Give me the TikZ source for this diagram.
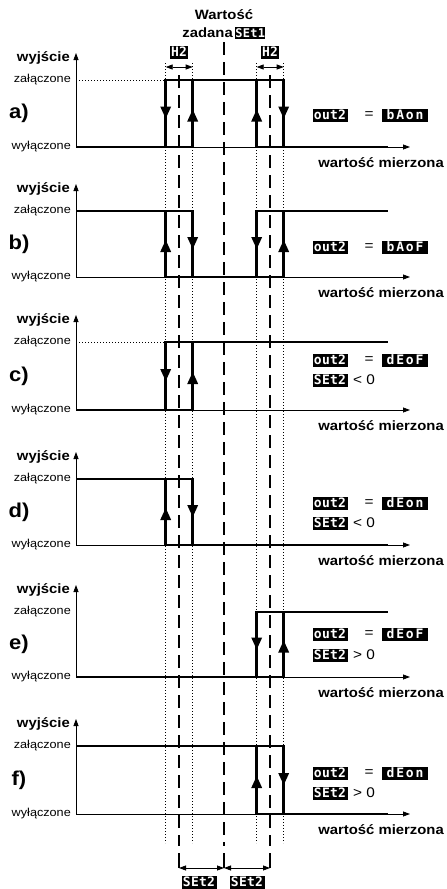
\documentclass[tikz,border=0pt]{standalone}
\usepackage{fontspec}
\setmainfont{Liberation Sans}[FakeStretch=1.1]
\newfontfamily\lcdfont{DejaVu Sans Mono}[LetterSpace=2]
\newfontfamily\lcdwide{DejaVu Sans Mono}[LetterSpace=14]
\usetikzlibrary{arrows.meta}

\newcommand\panelframe[4]{% #1 name, #2 letter, #3 high level, #4 low level
  \draw[axis] (76,#4) -- (76,#3-27);
  \draw[axis] (76,#4) -- (410,#4);
  \node[bold, anchor=east] (wy#1) at (70,#3-22) {wyjście};
  \node[lvl] (zal#1) at (71,#3) {załączone};
  \node[lvl] (wyl#1) at (71,#4) {wyłączone};
  \node[plabel] (lab#1) at (19,{(#3+#4)/2}) {#2)};
  \node[bold, anchor=east] (wm#1) at (444,#4+16) {wartość mierzona};
}
\newcommand\dnarr[2]{\fill (#1-5.5,#2-7) -- (#1+5.5,#2-7) -- (#1,#2+5) -- cycle;}
\newcommand\uparr[2]{\fill (#1-5.5,#2+8) -- (#1+5.5,#2+8) -- (#1,#2-4) -- cycle;}
\newcommand\outrow[3]{% #1 name, #2 value, #3 y
  \node[lcd=35pt] (o#1) at (330,#3) {out2};
  \node[rel] (eq#1) at (369,#3) {=};
  \node[lcd=46pt, font=\lcdwide\bfseries\fontsize{13}{13}\selectfont] (v#1) at (405,#3) {#2};
}
\newcommand\setrow[3]{% #1 name, #2 relation, #3 y
  \node[lcd=35pt] (s#1) at (330,#3) {SEt2};
  \node[rel, anchor=west] (r#1) at (353,#3) {#2 0};
}

\begin{document}
\begin{tikzpicture}[x=1pt,y=-1pt,
  axis/.style={line width=0.8pt, -{Triangle[width=5pt,length=7pt]}},
  sig/.style={line width=2.8pt, line join=miter},
  dashv/.style={line width=1.6pt, dash pattern=on 13pt off 7pt},
  dotv/.style={line width=0.6pt, dash pattern=on 0.6pt off 2.4pt},
  bold/.style={font=\bfseries\fontsize{13.5}{15}\selectfont, inner sep=0pt},
  lvl/.style={font=\fontsize{11.5}{13}\selectfont, inner sep=0pt, anchor=east},
  plabel/.style={font=\bfseries\fontsize{20}{22}\selectfont, inner sep=0pt},
  rel/.style={font=\fontsize{14}{16}\selectfont, inner sep=0pt},
  lcd/.style={fill=black, text=white, font=\lcdfont\bfseries\fontsize{13}{13}\selectfont, inner sep=0pt, minimum height=13pt, minimum width=#1},
  dim/.style={line width=0.8pt, {Triangle[width=5pt,length=7pt]}-{Triangle[width=5pt,length=7pt]}},
]
\useasboundingbox (0,0) rectangle (447,889);

% header
\node[bold] (wart) at (224,15) {Wartość};
\node[bold, anchor=east] (zad) at (233,33) {zadana};
\node[lcd=30pt, anchor=west, minimum height=12pt, font=\lcdfont\bfseries\fontsize{12}{12}\selectfont] (set1) at (235,33) {SEt1};
\node[lcd=18pt] (h2a) at (179,52) {H2};
\node[lcd=18pt] (h2b) at (270,52) {H2};

% vertical reference lines
\coordinate (d1t) at (165.7,63); \coordinate (d1b) at (165.7,843);
\coordinate (d2t) at (192.7,63); \coordinate (d2b) at (192.7,843);
\coordinate (d3t) at (256.7,63); \coordinate (d3b) at (256.7,843);
\coordinate (d4t) at (283.7,63); \coordinate (d4b) at (283.7,843);
\draw[dotv] (d1t) -- (d1b);
\draw[dotv] (d2t) -- (d2b);
\draw[dotv] (d3t) -- (d3b);
\draw[dotv] (d4t) -- (d4b);

\coordinate (s1t) at (179,75); \coordinate (s1m) at (179,846); \coordinate (s1n) at (179,853); \coordinate (s1b) at (179,868);
\coordinate (ct) at (224,42); \coordinate (cm) at (224,846); \coordinate (cn) at (224,853); \coordinate (cb) at (224,868);
\coordinate (s2t) at (270,75); \coordinate (s2m) at (270,846); \coordinate (s2n) at (270,853); \coordinate (s2b) at (270,868);
\draw[dashv] (s1t) -- (s1m);
\draw[dashv] (ct) -- (cm);
\draw[dashv] (s2t) -- (s2m);
\draw[line width=1.6pt] (s1n) -- (s1b);
\draw[line width=1.6pt] (cn) -- (cb);
\draw[line width=1.6pt] (s2n) -- (s2b);

% hysteresis dimensions
\coordinate (h1l) at (165.7,67); \coordinate (h1r) at (192.7,67);
\coordinate (h2l) at (256.7,67); \coordinate (h2r) at (283.7,67);
\draw[dim] (h1l) -- (h1r);
\draw[dim] (h2l) -- (h2r);

% bottom SEt2 dimensions
\draw[dim] (s1b) -- (cb);
\draw[dim] (cb) -- (s2b);
\node[lcd=35pt] (bs1) at (199,882) {SEt2};
\node[lcd=35pt] (bs2) at (247,882) {SEt2};

% ---- panel a ----
\panelframe{a}{a}{80}{147}
\draw[dotv] (76,80) -- (165.7,80);
\draw[sig] (76,147) -- (165.7,147) -- (165.7,80) -- (283.7,80) -- (283.7,147) -- (388,147);
\draw[sig] (165.7,147) -- (192.7,147) -- (192.7,80);
\draw[sig] (256.7,80) -- (256.7,147) -- (283.7,147);
\dnarr{165.7}{113.5}\uparr{192.7}{113.5}\uparr{256.7}{113.5}\dnarr{283.7}{113.5}
\outrow{a}{bAon}{115}

% ---- panel b ----
\panelframe{b}{b}{211}{277}
\draw[sig] (76,211) -- (192.7,211) -- (192.7,277);
\draw[sig] (165.7,211) -- (165.7,277) -- (283.7,277) -- (283.7,211);
\draw[sig] (256.7,277) -- (256.7,211) -- (388,211);
\uparr{165.7}{244}\dnarr{192.7}{244}\dnarr{256.7}{244}\uparr{283.7}{244}
\outrow{b}{bAoF}{247}

% ---- panel c ----
\panelframe{c}{c}{342}{410}
\draw[dotv] (76,342) -- (165.7,342);
\draw[sig] (76,410) -- (192.7,410) -- (192.7,342);
\draw[sig] (165.7,410) -- (165.7,342) -- (388,342);
\dnarr{165.7}{376}\uparr{192.7}{376}
\outrow{c}{dEoF}{360}
\setrow{c}{<}{380}

% ---- panel d ----
\panelframe{d}{d}{479}{545}
\draw[sig] (76,479) -- (192.7,479) -- (192.7,545);
\draw[sig] (165.7,479) -- (165.7,545) -- (388,545);
\uparr{165.7}{512}\dnarr{192.7}{512}
\outrow{d}{dEon}{503}
\setrow{d}{<}{523}

% ---- panel e ----
\panelframe{e}{e}{612}{677}
\draw[sig] (76,677) -- (283.7,677) -- (283.7,612);
\draw[sig] (256.7,677) -- (256.7,612) -- (388,612);
\dnarr{256.7}{644.5}\uparr{283.7}{644.5}
\outrow{e}{dEoF}{634}
\setrow{e}{>}{655}

% ---- panel f ----
\panelframe{f}{f}{746}{814}
\draw[sig] (76,746) -- (283.7,746) -- (283.7,814);
\draw[sig] (256.7,746) -- (256.7,814) -- (388,814);
\uparr{256.7}{780}\dnarr{283.7}{780}
\outrow{f}{dEon}{773}
\setrow{f}{>}{793}
\end{tikzpicture}
\end{document}
